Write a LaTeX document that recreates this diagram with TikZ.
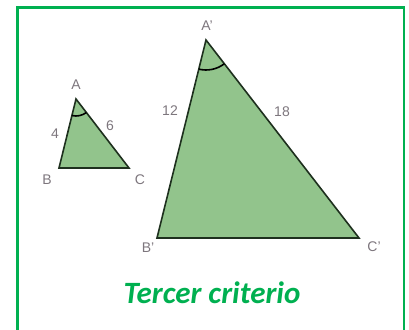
\documentclass[tikz,border=0pt]{standalone}
\usepackage{fontspec}
\setmainfont{Liberation Sans}
\newfontfamily\titlefont{Carlito}
\usepackage{tikz}
\usetikzlibrary{angles,calc}
\definecolor{framegreen}{RGB}{0,176,80}
\definecolor{trifill}{RGB}{146,196,140}
\definecolor{triedge}{RGB}{30,48,30}
\definecolor{lblgray}{RGB}{125,118,125}

\begin{document}
\begin{tikzpicture}[x=1pt, y=1pt,
    tri/.style={fill=trifill, draw=triedge, line width=1.6pt, line join=miter},
    vlabel/.style={font=\fontsize{14}{14}\selectfont, text=lblgray, inner sep=0pt},
    angmark/.style={draw=black, line width=1.6pt}
]
\clip (0,0) rectangle (409,-329);
\useasboundingbox (0,0) rectangle (409,-329);
\draw[framegreen, line width=2.2pt] (17.5,-7.5) rectangle (404,-340);

% small triangle
\coordinate (A) at (76,-99);
\coordinate (B) at (59,-168);
\coordinate (C) at (129,-168);
\draw[tri] (A) -- (B) -- (C) -- cycle;
\pic[angmark, angle radius=17pt] {angle = B--A--C};
\node[vlabel] (lA) at (76,-85)  {A};
\node[vlabel] (lB) at (47,-180) {B};
\node[vlabel] (lC) at (140,-180) {C};
\node[vlabel] (lAB) at (55,-134) {4};
\node[vlabel] (lAC) at (110,-126) {6};

% big triangle
\coordinate (A1) at (206,-40);
\coordinate (B1) at (157,-238);
\coordinate (C1) at (359,-238);
\draw[tri] (A1) -- (B1) -- (C1) -- cycle;
\pic[angmark, angle radius=30pt] {angle = B1--A1--C1};
\node[vlabel] (lA1) at (207,-26)  {A'};
\node[vlabel] (lB1) at (148,-248) {B'};
\node[vlabel] (lC1) at (374,-247) {C'};
\node[vlabel] (lA1B1) at (170,-111) {12};
\node[vlabel] (lA1C1) at (282,-112) {18};

\node[font=\titlefont\bfseries\itshape\fontsize{31}{31}\selectfont, text=framegreen] (title) at (212,-293) {Tercer criterio};
\end{tikzpicture}
\end{document}
